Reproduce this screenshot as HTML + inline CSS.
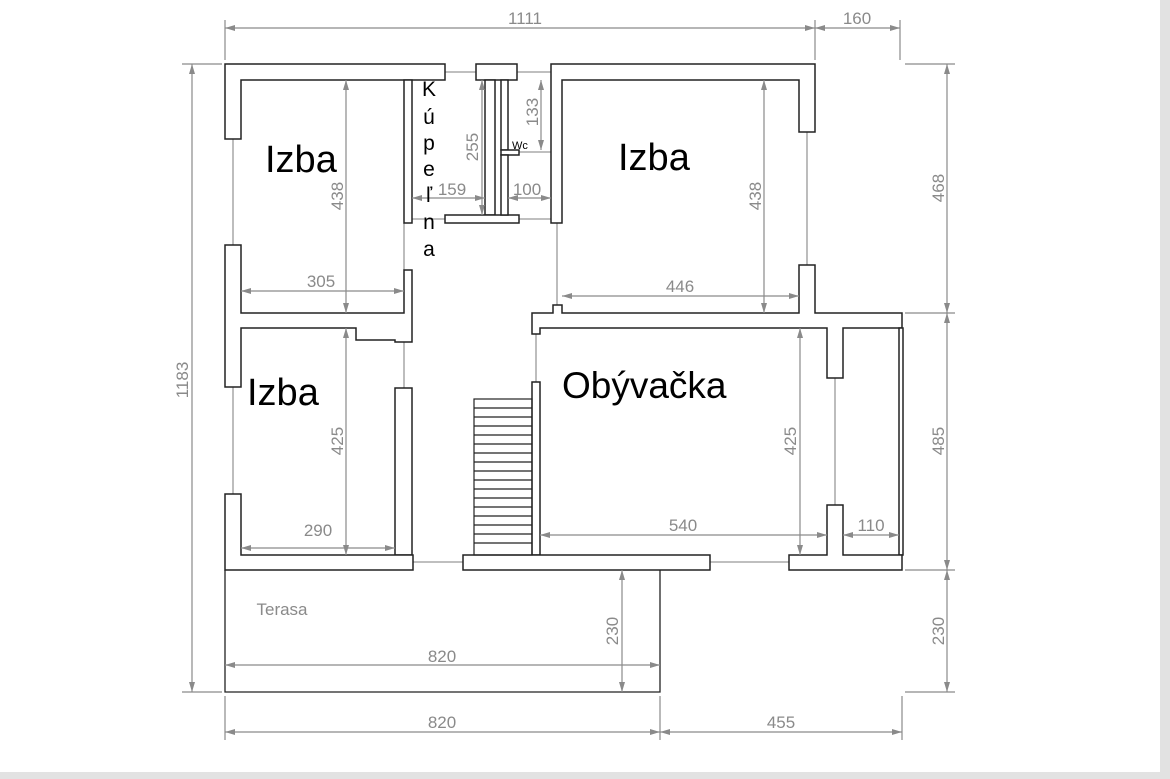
<!DOCTYPE html>
<html><head><meta charset="utf-8"><style>
html,body{margin:0;padding:0;background:#fff;}
svg{display:block;}
</style></head><body>
<svg width="1170" height="779" viewBox="0 0 1170 779" xmlns="http://www.w3.org/2000/svg">
<rect x="0" y="0" width="1170" height="779" fill="#fff"/>
<rect x="1160" y="0" width="10" height="779" fill="#e2e2e2"/>
<rect x="0" y="772" width="1170" height="7" fill="#e2e2e2"/>
<defs>
<marker id="a" viewBox="0 0 10 6" refX="10" refY="3" markerWidth="10" markerHeight="6" markerUnits="userSpaceOnUse" orient="auto-start-reverse"><path d="M0,0 L10,3 L0,6 z" fill="#8a8a8a"/></marker>
</defs>
<g stroke="#999" stroke-width="1.3" fill="none">
<line x1="445" y1="72" x2="476" y2="72"/>
<line x1="517" y1="72" x2="551" y2="72"/>
<line x1="233" y1="139" x2="233" y2="245"/>
<line x1="233" y1="387" x2="233" y2="494"/>
<line x1="404" y1="342" x2="404" y2="388"/>
<line x1="404" y1="223" x2="404" y2="270"/>
<line x1="557" y1="223" x2="557" y2="305"/>
<line x1="536" y1="334" x2="536" y2="382"/>
<line x1="807" y1="132" x2="807" y2="265"/>
<line x1="835" y1="378" x2="835" y2="505"/>
<line x1="413" y1="562" x2="463" y2="562"/>
<line x1="710" y1="562" x2="789" y2="562"/>
<line x1="412" y1="219" x2="445" y2="219"/>
<line x1="519" y1="219" x2="551" y2="219"/>
<line x1="507" y1="152" x2="551" y2="152"/>
</g>
<g fill="#fff" stroke="#222" stroke-width="1.5">
<polygon points="225,64 445,64 445,80 241,80 241,139 225,139"/>
<rect x="476" y="64" width="41" height="16"/>
<polygon points="551,64 815,64 815,132 799,132 799,80 562,80 562,223 551,223"/>
<rect x="404" y="80" width="8" height="143"/>
<rect x="485" y="80" width="10" height="135"/>
<rect x="445" y="215" width="74" height="8"/>
<rect x="501" y="80" width="7" height="70"/>
<rect x="501" y="150" width="18" height="5"/>
<rect x="501" y="155" width="7" height="60"/>
<polygon points="225,245 241,245 241,313 404,313 404,270 412,270 412,342 395,342 395,340 356,340 356,328 241,328 241,387 225,387"/>
<polygon points="799,265 815,265 815,313 902,313 902,328 843,328 843,378 827,378 827,328 540,328 540,334 532,334 532,313 553,313 553,305 562,305 562,313 799,313"/>
<rect x="899" y="328" width="4" height="227"/>
<rect x="395" y="388" width="17" height="167"/>
<polygon points="225,494 241,494 241,555 413,555 413,570 225,570"/>
<rect x="532" y="382" width="8" height="173"/>
<rect x="463" y="555" width="247" height="15"/>
<polygon points="827,505 843,505 843,555 902,555 902,570 789,570 789,555 827,555"/>
</g>
<g stroke="#222" stroke-width="1.2" fill="none">
<rect x="474" y="399" width="58" height="156"/>
<line x1="474" y1="408" x2="532" y2="408"/><line x1="474" y1="417" x2="532" y2="417"/><line x1="474" y1="426" x2="532" y2="426"/><line x1="474" y1="435" x2="532" y2="435"/><line x1="474" y1="444" x2="532" y2="444"/><line x1="474" y1="453" x2="532" y2="453"/><line x1="474" y1="462" x2="532" y2="462"/><line x1="474" y1="471" x2="532" y2="471"/><line x1="474" y1="480" x2="532" y2="480"/><line x1="474" y1="489" x2="532" y2="489"/><line x1="474" y1="498" x2="532" y2="498"/><line x1="474" y1="507" x2="532" y2="507"/><line x1="474" y1="516" x2="532" y2="516"/><line x1="474" y1="525" x2="532" y2="525"/><line x1="474" y1="534" x2="532" y2="534"/><line x1="474" y1="543" x2="532" y2="543"/>
</g>
<g stroke="#222" stroke-width="1.3" fill="none">
<polyline points="225,570 225,692 660,692 660,570"/>
</g>
<g stroke="#8a8a8a" stroke-width="1.2" fill="none">
<line x1="225" y1="20" x2="225" y2="60"/><line x1="815" y1="20" x2="815" y2="60"/><line x1="900" y1="20" x2="900" y2="60"/>
<line x1="225" y1="28" x2="815" y2="28" marker-start="url(#a)" marker-end="url(#a)"/>
<line x1="815" y1="28" x2="900" y2="28" marker-start="url(#a)" marker-end="url(#a)"/>
<line x1="182" y1="64" x2="222" y2="64"/><line x1="182" y1="692" x2="222" y2="692"/>
<line x1="192" y1="64" x2="192" y2="692" marker-start="url(#a)" marker-end="url(#a)"/>
<line x1="905" y1="64" x2="955" y2="64"/><line x1="905" y1="313" x2="955" y2="313"/><line x1="905" y1="570" x2="955" y2="570"/><line x1="905" y1="692" x2="955" y2="692"/>
<line x1="947" y1="64" x2="947" y2="313" marker-start="url(#a)" marker-end="url(#a)"/>
<line x1="947" y1="313" x2="947" y2="570" marker-start="url(#a)" marker-end="url(#a)"/>
<line x1="947" y1="570" x2="947" y2="692" marker-start="url(#a)" marker-end="url(#a)"/>
<line x1="225" y1="696" x2="225" y2="740"/><line x1="660" y1="696" x2="660" y2="740"/><line x1="902" y1="696" x2="902" y2="740"/>
<line x1="225" y1="732" x2="660" y2="732" marker-start="url(#a)" marker-end="url(#a)"/>
<line x1="660" y1="732" x2="902" y2="732" marker-start="url(#a)" marker-end="url(#a)"/>
<line x1="346" y1="80" x2="346" y2="313" marker-start="url(#a)" marker-end="url(#a)"/>
<line x1="241" y1="291" x2="404" y2="291" marker-start="url(#a)" marker-end="url(#a)"/>
<line x1="346" y1="328" x2="346" y2="555" marker-start="url(#a)" marker-end="url(#a)"/>
<line x1="241" y1="548" x2="395" y2="548" marker-start="url(#a)" marker-end="url(#a)"/>
<line x1="482" y1="80" x2="482" y2="215" marker-start="url(#a)" marker-end="url(#a)"/>
<line x1="412" y1="198" x2="485" y2="198" marker-start="url(#a)" marker-end="url(#a)"/>
<line x1="541" y1="80" x2="541" y2="150" marker-start="url(#a)" marker-end="url(#a)"/>
<line x1="508" y1="198" x2="551" y2="198" marker-start="url(#a)" marker-end="url(#a)"/>
<line x1="764" y1="80" x2="764" y2="313" marker-start="url(#a)" marker-end="url(#a)"/>
<line x1="562" y1="296" x2="799" y2="296" marker-start="url(#a)" marker-end="url(#a)"/>
<line x1="800" y1="328" x2="800" y2="555" marker-start="url(#a)" marker-end="url(#a)"/>
<line x1="540" y1="535" x2="827" y2="535" marker-start="url(#a)" marker-end="url(#a)"/>
<line x1="843" y1="535" x2="899" y2="535" marker-start="url(#a)" marker-end="url(#a)"/>
<line x1="622" y1="570" x2="622" y2="692" marker-start="url(#a)" marker-end="url(#a)"/>
<line x1="225" y1="665" x2="660" y2="665" marker-start="url(#a)" marker-end="url(#a)"/>
</g>
<g font-family="Liberation Sans, sans-serif" font-size="17" fill="#8a8a8a" text-anchor="middle">
<text x="525" y="24">1111</text>
<text x="857" y="24">160</text>
<text transform="translate(188,380) rotate(-90)">1183</text>
<text transform="translate(944,188) rotate(-90)">468</text>
<text transform="translate(944,441) rotate(-90)">485</text>
<text transform="translate(944,631) rotate(-90)">230</text>
<text x="442" y="728">820</text>
<text x="781" y="728">455</text>
<text x="442" y="662">820</text>
<text transform="translate(618,631) rotate(-90)">230</text>
<text transform="translate(343,196) rotate(-90)">438</text>
<text x="321" y="287">305</text>
<text transform="translate(343,441) rotate(-90)">425</text>
<text x="318" y="536">290</text>
<text transform="translate(478,147) rotate(-90)">255</text>
<text x="452" y="195">159</text>
<text transform="translate(538,112) rotate(-90)">133</text>
<text x="527" y="195">100</text>
<text transform="translate(761,196) rotate(-90)">438</text>
<text x="680" y="292">446</text>
<text transform="translate(796,441) rotate(-90)">425</text>
<text x="683" y="531">540</text>
<text x="871" y="531">110</text>
<text x="282" y="615">Terasa</text>
</g>
<g font-family="Liberation Sans, sans-serif" fill="#000">
<text x="265" y="172" font-size="38">Izba</text>
<text x="618" y="170" font-size="38">Izba</text>
<text x="247" y="405" font-size="38">Izba</text>
<text x="562" y="398" font-size="37">Obývačka</text>
<text x="512" y="149" font-size="11">Wc</text>
<g font-size="21" text-anchor="middle">
<text x="429" y="96">K</text><text x="429" y="124">ú</text><text x="429" y="150">p</text><text x="429" y="176">e</text><text x="429" y="202">ľ</text><text x="429" y="229">n</text><text x="429" y="256">a</text>
</g>
</g>
</svg>
</body></html>
